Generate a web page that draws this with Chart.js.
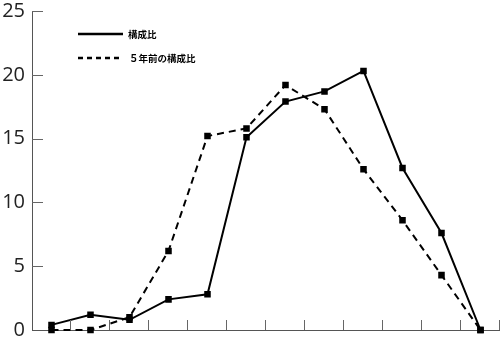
<!DOCTYPE html>
<html><head><meta charset="utf-8">
<script src="https://cdn.jsdelivr.net/npm/chart.js@4"></script>
<style>html,body{margin:0;padding:0;background:#fff}#wrap{width:500px;height:346px}</style>
</head><body><div id="wrap"><canvas id="c" width="500" height="346"></canvas></div>
<script>
const categories = ["1","2","3","4","5","6","7","8","9","10","11","12"];
const current = [0.4, 1.2, 0.8, 2.4, 2.8, 15.1, 17.9, 18.7, 20.3, 12.7, 7.6, 0];
const fiveYearsAgo = [0, 0, 1.0, 6.2, 15.2, 15.8, 19.2, 17.3, 12.6, 8.6, 4.3, 0];
const yTicks = [0, 5, 10, 15, 20, 25];
const seriesLabels = ["構成比", "５年前の構成比"];

const innerTicks = {
  id: 'innerTicks',
  afterDatasetsDraw(chart) {
    const ctx = chart.ctx, x = chart.scales.x, y = chart.scales.y;
    ctx.save();
    ctx.strokeStyle = '#666';
    ctx.lineWidth = 1;
    ctx.beginPath();
    yTicks.forEach(v => {
      if (v === 0) return;
      const py = Math.round(y.getPixelForValue(v)) + 0.5;
      ctx.moveTo(x.left, py); ctx.lineTo(x.left + 11, py);
    });
    const n = categories.length;
    for (let i = 1; i <= n; i++) {
      const px = Math.round(x.left + i * (x.right - x.left) / n) - 0.5;
      ctx.moveTo(px, y.bottom); ctx.lineTo(px, y.bottom - 10);
    }
    ctx.stroke();
    // legend
    const items = chart.data.datasets;
    items.forEach((ds, i) => {
      const ly = 34 + i * 24;
      ctx.beginPath();
      ctx.strokeStyle = '#000';
      ctx.lineWidth = 2.5;
      ctx.setLineDash(i === 0 ? [] : [5, 4]);
      ctx.moveTo(78, ly); ctx.lineTo(123, ly);
      ctx.stroke();
      ctx.setLineDash([]);
      ctx.fillStyle = '#000';
      ctx.font = 'bold 9.5px "Noto Sans CJK JP"';
      ctx.textBaseline = 'middle';
      ctx.fillText(ds.label, i === 0 ? 128 : 129, ly);
    });
    ctx.restore();
  }
};

new Chart(document.getElementById('c'), {
  type: 'line',
  data: {
    labels: categories,
    datasets: [
      { label: seriesLabels[0], data: current, borderColor: '#000', backgroundColor: '#000', borderWidth: 2,
        pointStyle: 'rect', pointRadius: 3.2, tension: 0, fill: false, clip: false },
      { label: seriesLabels[1], data: fiveYearsAgo, borderColor: '#000', backgroundColor: '#000', borderWidth: 2,
        borderDash: [7, 5], pointStyle: 'rect', pointRadius: 3.2, tension: 0, fill: false, clip: false }
    ]
  },
  options: {
    responsive: false,
    animation: false,
    devicePixelRatio: 1,
    layout: { autoPadding: false, padding: { top: 11, right: 0, bottom: 0, left: 0 } },
    plugins: { legend: { display: false }, tooltip: { enabled: false } },
    scales: {
      x: {
        offset: true,
        afterFit(s) { s.height = 16; s.paddingLeft = 0; s.paddingRight = 0; },
        grid: { display: false, drawTicks: false },
        border: { display: true, color: '#555', width: 1 },
        ticks: { display: false }
      },
      y: {
        min: 0, max: 25,
        afterFit(s) { s.width = 32; s.paddingTop = 0; s.paddingBottom = 0; },
        afterBuildTicks(s) { s.ticks = yTicks.map(v => ({ value: v })); },
        grid: { display: false, drawTicks: false },
        border: { display: true, color: '#555', width: 1 },
        ticks: { padding: 7, color: '#222', font: { family: '"Open Sans"', size: 20 } }
      }
    }
  },
  plugins: [innerTicks]
});
</script></body></html>
